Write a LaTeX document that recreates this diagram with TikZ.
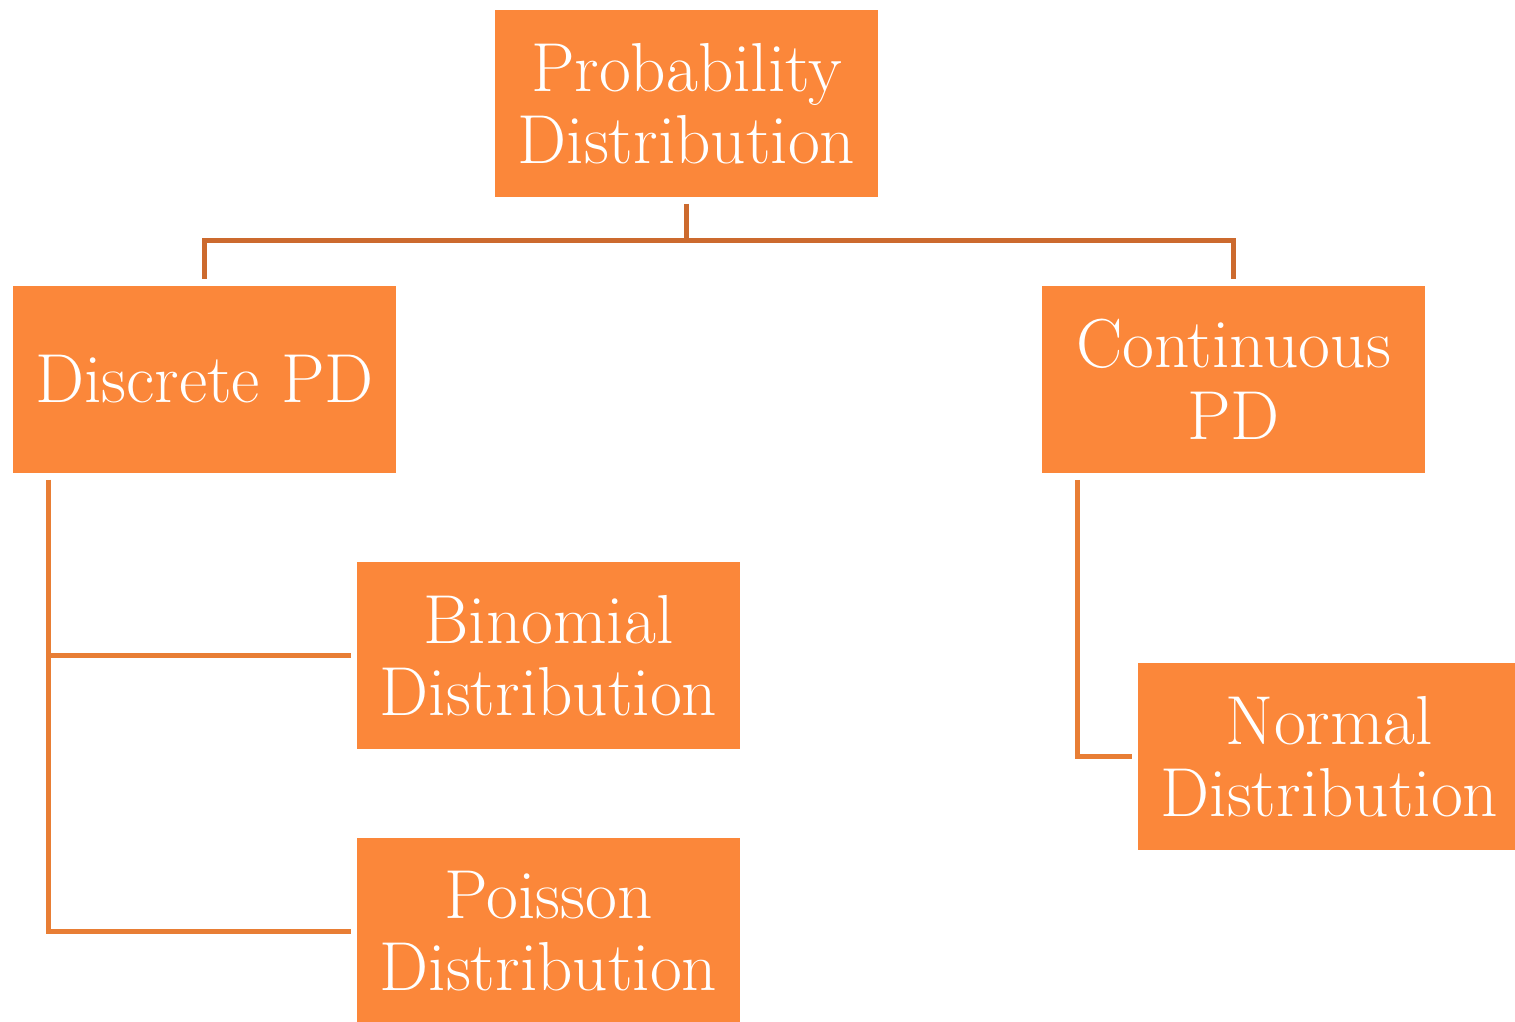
\documentclass[tikz,border=0pt]{standalone}
\usepackage{xcolor}
\definecolor{pdorange}{RGB}{251,135,58}
\definecolor{pdlink}{RGB}{232,126,53}
\definecolor{pdlinkdark}{RGB}{204,106,46}
\usepackage{tikz}
\usetikzlibrary{positioning, calc}

\begin{document}
\begin{tikzpicture}[x=0.75pt, y=-0.75pt,
    pdbox/.style={fill=pdorange, text=white, inner sep=2pt,
                  minimum width=287.25pt, minimum height=140.25pt,
                  align=center, font=\fontsize{52}{54}\selectfont},
    link/.style={draw=pdlink, line width=3.75pt},
    linkdark/.style={draw=pdlinkdark, line width=3.75pt}]

% Canvas
\useasboundingbox (0,0) rectangle (1515,1021);
\clip (0,0) rectangle (1515,1021);

% Root
\node[pdbox] (pd) at (686.5,103.5) {Probability\\Distribution};

% Second level
\node[pdbox] (dpd) at (204.5,379.5) {Discrete PD};
\node[pdbox] (cpd) at (1233.5,379.5) {Continuous\\PD};

% Discrete leaves
\node[pdbox] (bin) at (548.5,655.5) {Binomial\\Distribution};
\node[pdbox] (poi) at (548.5,931.5) {Poisson\\Distribution};

% Continuous leaf
\node[pdbox] (nor) at (1329.5,756.5) {Normal\\Distribution};

% Root to second level
\draw[linkdark] ([yshift=-5pt]pd.south) -- ++(0,37) -| ([yshift=5pt]dpd.north);
\draw[linkdark] ([yshift=-5pt]pd.south) -- ++(0,37) -| ([yshift=5pt]cpd.north);

% Discrete branch
\draw[link] ([xshift=27pt,yshift=-5pt]dpd.south west) |- ([xshift=-4.5pt]bin.west);
\draw[link] ([xshift=27pt,yshift=-5pt]dpd.south west) |- ([xshift=-4.5pt]poi.west);

% Continuous branch
\draw[link] ([xshift=27pt,yshift=-5pt]cpd.south west) |- ([xshift=-4pt]nor.west);

\end{tikzpicture}
\end{document}
